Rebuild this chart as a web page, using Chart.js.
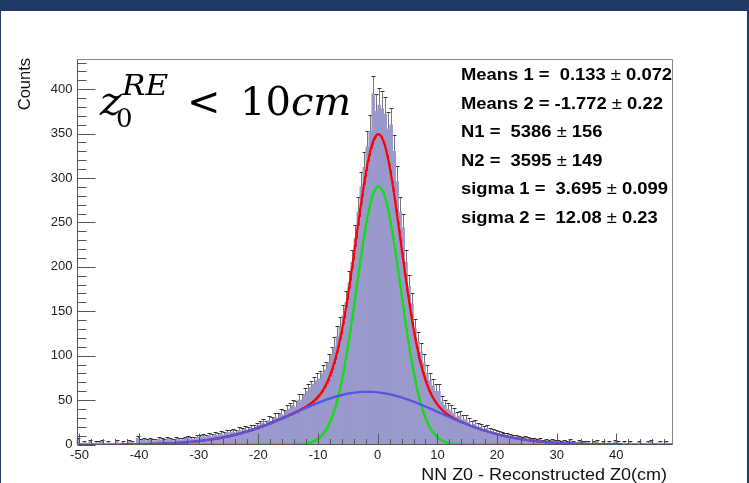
<!DOCTYPE html>
<html lang="en">
<head>
<meta charset="UTF-8">
<title>NN Z0 - Reconstructed Z0</title>
<script src="https://cdn.jsdelivr.net/npm/chart.js"></script>
<style>
  body { margin: 0; background: #fff; }
  #wrap { position: relative; width: 749px; height: 483px; overflow: hidden; background: #fff; }
  #wrap canvas { position: absolute; left: 0; top: 0; }
  .edge { position: absolute; background: #1f3864; }
</style>
</head>
<body>
<div id="wrap">
  <canvas id="hist" width="749" height="483"></canvas>
  <div class="edge" style="left:0;top:0;width:749px;height:11px"></div>
  <div class="edge" style="left:0;top:0;width:1px;height:483px"></div>
  <div class="edge" style="left:747px;top:0;width:2px;height:483px"></div>
</div>
<script>
// histogram binning (200 bins of 0.5 cm)
const xMin = -50.5;
const xMax = 49.5;
const binWidth = 0.5;

// entries per bin, left to right
const counts = [
  5, 1, 2, 1, 3, 1, 2, 2, 3, 1, 2, 1, 1, 3, 1, 2, 1, 3, 2, 1, 7, 4, 5, 4, 5, 4, 4, 6, 5, 4, 6,
  5, 4, 6, 5, 5, 6, 7, 6, 6, 8,
  8, 9, 8, 10, 9, 11, 10, 12, 11, 13,
  13, 14, 13, 16, 15, 17, 16, 18, 18, 20,
  22, 24, 22, 27, 26, 30, 30, 34, 33, 38,
  40, 44, 42, 50, 50, 56, 60, 64, 68, 72,
  74, 80, 84, 92, 100, 110, 122, 132, 145, 160,
  182, 205, 232, 262, 290, 312, 335, 352, 395, 375,
  382, 378, 372, 355, 360, 330, 296, 262, 244, 205,
  178, 158, 130, 116, 104, 92, 80, 72, 66, 60,
  60, 48, 44, 40, 38, 35, 31, 32, 28, 28,
  25, 22, 23, 20, 19, 17, 18, 15, 14, 13,
  12, 11, 10, 10, 9, 8, 8, 7, 6, 7,
  6, 5, 5, 4, 5, 3, 4, 3, 4, 3,
  3, 2, 3, 2, 4, 2, 1, 3, 2, 2,
  2, 1, 2, 3, 1, 2, 1, 2, 1, 3, 2, 1, 2, 1, 2, 1, 1, 2, 1, 1, 2, 3, 1, 1, 2, 1, 2, 1, 1
];

const xTicks = [-50, -40, -30, -20, -10, 0, 10, 20, 30, 40];
const yTicks = [0, 50, 100, 150, 200, 250, 300, 350, 400];
const yMax = 434;

// double gaussian fit results
const statNames = ['Means 1', 'Means 2', 'N1', 'N2', 'sigma 1', 'sigma 2'];
const statValues = ['0.133', '-1.772', '5386', '3595', '3.695', '12.08'];
const statErrors = ['0.072', '0.22', '156', '149', '0.099', '0.23'];

// x ranges the fit functions are drawn over
const totalRange = [-43, 41];
const coreRange = [-31, 36];
const wideRange = [-42.7, 39.5];

const means = [parseFloat(statValues[0]), parseFloat(statValues[1])];
const norms = [parseFloat(statValues[2]), parseFloat(statValues[3])];
const sigmas = [parseFloat(statValues[4]), parseFloat(statValues[5])];

function gaus(k, x) {
  const amp = norms[k] * binWidth / (sigmas[k] * Math.sqrt(2 * Math.PI));
  const t = (x - means[k]) / sigmas[k];
  return amp * Math.exp(-0.5 * t * t);
}

function sample(range, f) {
  const pts = [];
  for (let x = range[0]; x <= range[1] + 1e-9; x += 0.1) pts.push({ x: x, y: f(x) });
  return pts;
}

const bars = counts.map((c, i) => ({ x: xMin + binWidth * (i + 0.5), y: c }));

const AXIS = '#555';
const SANS = '"Liberation Sans", Arial, sans-serif';

// text drawn slightly wider than the font, like the ROOT canvas export
function wideText(ctx, text, x, y, sx) {
  ctx.save();
  ctx.translate(x, y);
  ctx.scale(sx, 1);
  ctx.fillText(text, 0, 0);
  const w = ctx.measureText(text).width * sx;
  ctx.restore();
  return w;
}

const rootStyle = {
  id: 'rootStyle',
  beforeDraw(chart) {
    const ctx = chart.ctx;
    ctx.save();
    ctx.fillStyle = '#fff';
    ctx.fillRect(0, 0, chart.width, chart.height);
    ctx.restore();
  },
  beforeDatasetDraw(chart, args) {
    if (args.index !== 0) return;
    // sqrt(N) error bars, the filled histogram goes on top of them
    const ctx = chart.ctx;
    const xs = chart.scales.x, ys = chart.scales.y;
    const area = chart.chartArea;
    ctx.save();
    ctx.beginPath();
    ctx.rect(area.left, area.top, area.right - area.left, area.bottom - area.top);
    ctx.clip();
    ctx.lineWidth = 1;
    counts.forEach((c, i) => {
      if (c <= 0) return;
      const e = Math.sqrt(c);
      const px = Math.round(xs.getPixelForValue(xMin + binWidth * (i + 0.5))) + 0.5;
      const top = Math.round(ys.getPixelForValue(c + e)) + 0.5;
      const bot = ys.getPixelForValue(Math.max(c - e, 0));
      ctx.strokeStyle = '#777';
      ctx.beginPath();
      ctx.moveTo(px, top); ctx.lineTo(px, bot);
      ctx.stroke();
      ctx.strokeStyle = '#333';
      ctx.beginPath();
      ctx.moveTo(px - 2, top); ctx.lineTo(px + 2, top);
      ctx.stroke();
    });
    ctx.restore();
  },
  afterDraw(chart) {
    const ctx = chart.ctx;
    const xs = chart.scales.x, ys = chart.scales.y;
    const a = chart.chartArea;
    const L = Math.round(a.left) + 0.5, R = Math.round(a.right) - 0.5;
    const T = Math.round(a.top) + 0.5, B = Math.round(a.bottom) - 0.5;
    ctx.save();

    // frame
    ctx.lineWidth = 1;
    ctx.strokeStyle = '#888';
    ctx.beginPath();
    ctx.moveTo(L, T); ctx.lineTo(R, T); ctx.lineTo(R, B);
    ctx.stroke();
    ctx.strokeStyle = AXIS;
    ctx.beginPath();
    ctx.moveTo(L, T); ctx.lineTo(L, B); ctx.lineTo(R, B);
    ctx.stroke();

    // inward ticks, x axis: major every 10, minor every 2
    ctx.beginPath();
    for (let v = -50; v <= xMax; v += 2) {
      const px = Math.round(xs.getPixelForValue(v)) + 0.5;
      const len = (v % 10 === 0) ? 11 : 5.5;
      ctx.moveTo(px, B); ctx.lineTo(px, B - len);
    }
    // y axis: major every 50, minor every 10
    for (let v = 0; v <= yMax; v += 10) {
      const py = Math.round(ys.getPixelForValue(v)) + 0.5;
      const len = (v % 50 === 0) ? 18 : 9;
      ctx.moveTo(L, py); ctx.lineTo(L + len, py);
    }
    ctx.stroke();

    // axis titles
    ctx.fillStyle = '#111';
    ctx.textBaseline = 'alphabetic';
    ctx.textAlign = 'left';
    ctx.font = '16.5px ' + SANS;
    const tw = ctx.measureText('NN Z0 - Reconstructed Z0(cm)').width * 1.09;
    wideText(ctx, 'NN Z0 - Reconstructed Z0(cm)', 667 - tw, 480, 1.09);
    ctx.save();
    ctx.translate(30, 58);
    ctx.rotate(-Math.PI / 2);
    ctx.textAlign = 'right';
    ctx.font = '16.5px ' + SANS;
    ctx.fillText('Counts', 0, 0);
    ctx.restore();

    // fit parameters
    ctx.textAlign = 'left';
    ctx.fillStyle = '#000';
    const bold = 'bold 16px ' + SANS;
    const thin = '16px ' + SANS;
    statNames.forEach((name, i) => {
      const val = statValues[i].startsWith('-') ? statValues[i] : ' ' + statValues[i];
      let x = 461;
      const y = 80 + i * 28.6;
      ctx.font = bold;
      x += wideText(ctx, name + ' = ' + val + ' ', x, y, 1.15);
      ctx.font = thin;
      x += wideText(ctx, '\u00b1', x, y, 1.15);
      ctx.font = bold;
      wideText(ctx, ' ' + statErrors[i], x, y, 1.15);
    });

    // selection label
    const serif = '"DejaVu Serif", "Liberation Serif", serif';
    ctx.font = 'italic 41px ' + serif;
    ctx.fillText('z', 100, 115);
    ctx.font = '26px ' + serif;
    ctx.fillText('0', 116, 127);
    ctx.font = 'italic 27px ' + serif;
    wideText(ctx, 'RE', 122, 95, 1.15);
    ctx.font = '40px ' + serif;
    ctx.fillText('<', 187, 115);
    ctx.fillText('10', 240, 115);
    const w10 = ctx.measureText('10').width;
    ctx.font = 'italic 40px ' + serif;
    ctx.fillText('cm', 240 + w10, 115);

    ctx.restore();
  }
};

new Chart(document.getElementById('hist'), {
  type: 'bar',
  data: {
    datasets: [
      {
        type: 'bar',
        data: bars,
        backgroundColor: 'rgb(153,153,204)',
        borderWidth: 0,
        barPercentage: 1,
        categoryPercentage: 1,
        order: 4
      },
      {
        type: 'line',
        data: sample(totalRange, x => gaus(0, x) + gaus(1, x)),
        borderColor: '#ff0000',
        borderWidth: 2.2,
        pointRadius: 0,
        tension: 0,
        order: 3
      },
      {
        type: 'line',
        data: sample(coreRange, x => gaus(0, x)),
        borderColor: '#11dd11',
        borderWidth: 2.2,
        pointRadius: 0,
        tension: 0,
        order: 2
      },
      {
        type: 'line',
        data: sample(wideRange, x => gaus(1, x)),
        borderColor: 'rgb(85,85,225)',
        borderWidth: 2.2,
        pointRadius: 0,
        tension: 0,
        order: 1
      }
    ]
  },
  options: {
    responsive: false,
    animation: false,
    devicePixelRatio: 1,
    layout: { padding: { left: 0, top: 59, right: 76, bottom: 0 } },
    plugins: { legend: { display: false }, tooltip: { enabled: false } },
    scales: {
      x: {
        type: 'linear',
        min: xMin,
        max: xMax,
        offset: false,
        grid: { display: false, drawTicks: false },
        border: { display: false },
        afterBuildTicks: s => { s.ticks = xTicks.map(v => ({ value: v })); },
        afterFit: s => { s.height = 38.5; },
        ticks: {
          autoSkip: false,
          maxRotation: 0,
          padding: 3,
          color: '#222',
          font: { family: SANS, size: 13 }
        }
      },
      y: {
        min: 0,
        max: yMax,
        grid: { display: false, drawTicks: false },
        border: { display: false },
        afterBuildTicks: s => { s.ticks = yTicks.map(v => ({ value: v })); },
        afterFit: s => { s.width = 76.5; },
        ticks: {
          padding: 4,
          color: '#222',
          font: { family: SANS, size: 13 }
        }
      }
    }
  },
  plugins: [rootStyle]
});
</script>
</body>
</html>
